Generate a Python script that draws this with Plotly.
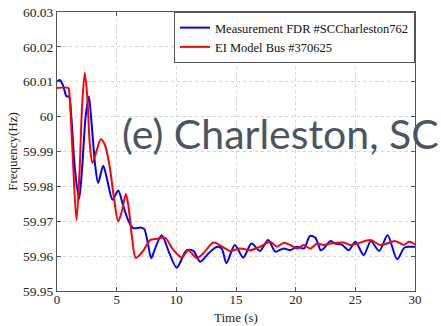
import plotly.graph_objects as go

# Measurement FDR #SCCharleston762 (blue)
t_meas = [0, 0.23, 0.5, 0.8, 1.0, 1.2, 1.5, 1.85, 2.1, 2.4, 2.67, 2.9, 3.2, 3.45, 3.87, 4.2,
          4.65, 5.13, 5.5, 6.0, 6.4, 7.0, 7.3, 7.6, 7.9, 8.2, 8.77, 9.4, 10.03, 10.87, 11.43,
          12.0, 12.7, 13.4, 13.8, 14.2, 14.9, 15.6, 16.3, 17.0, 17.7, 18.3, 19.0, 19.55, 20.1,
          20.7, 21.2, 21.65, 22.1, 22.35, 22.9, 23.3, 23.9, 24.45, 25.0, 25.7, 26.3, 27.0,
          27.7, 28.5, 29.1, 29.5, 30.0]
f_meas = [60.0100, 60.0105, 60.0090, 60.0058, 60.0058, 60.0000, 59.9850, 59.9764, 59.9850,
          60.0000, 60.0058, 59.9980, 59.9860, 59.9810, 59.9859, 59.9820, 59.9762, 59.9788,
          59.9750, 59.9700, 59.9680, 59.9682, 59.9678, 59.9640, 59.9594, 59.9620, 59.9660,
          59.9610, 59.9567, 59.9617, 59.9615, 59.9584, 59.9608, 59.9627, 59.9622, 59.9580,
          59.9632, 59.9596, 59.9636, 59.9615, 59.9646, 59.9613, 59.9622, 59.9617, 59.9627,
          59.9622, 59.9658, 59.9653, 59.9617, 59.9622, 59.9643, 59.9636, 59.9632, 59.9617,
          59.9641, 59.9603, 59.9643, 59.9615, 59.9660, 59.9591, 59.9624, 59.9627, 59.9627]

# EI Model Bus #370625 (red)
t_model = [0, 0.95, 1.05, 1.3, 1.63, 1.9, 2.1, 2.33, 2.55, 2.75, 2.97, 3.3, 3.67, 4.0, 4.4,
           4.8, 5.13, 5.45, 5.77, 6.0, 6.3, 6.6, 7.2, 7.8, 8.4, 9.05, 9.7, 10.45, 11.0, 11.71,
           12.27, 13.11, 14.09, 14.51, 15.35, 16.19, 17.03, 17.87, 18.43, 18.99, 19.55, 20.11,
           20.67, 21.23, 21.79, 22.35, 22.91, 24.03, 24.59, 25.15, 26.27, 27.11, 28.37, 29.07,
           29.49, 30.0]
f_model = [60.0082, 60.0082, 60.0060, 59.9900, 59.9703, 59.9850, 60.0030, 60.0126, 60.0050,
           59.9920, 59.9867, 59.9900, 59.9935, 59.9920, 59.9860, 59.9760, 59.9700, 59.9730,
           59.9778, 59.9740, 59.9650, 59.9595, 59.9614, 59.9646, 59.9650, 59.9653, 59.9620,
           59.9596, 59.9617, 59.9594, 59.9608, 59.9639, 59.9622, 59.9615, 59.9622, 59.9617,
           59.9627, 59.9641, 59.9627, 59.9638, 59.9632, 59.9622, 59.9632, 59.9622, 59.9636,
           59.9632, 59.9636, 59.9639, 59.9632, 59.9636, 59.9646, 59.9632, 59.9643, 59.9632,
           59.9641, 59.9634]

x_ticks = [0, 5, 10, 15, 20, 25, 30]
y_ticks = [59.95, 59.96, 59.97, 59.98, 59.99, 60.0, 60.01, 60.02, 60.03]
y_labels = ["59.95", "59.96", "59.97", "59.98", "59.99", "60", "60.01", "60.02", "60.03"]

serif = "Liberation Serif, Times New Roman, serif"

fig = go.Figure()
fig.add_trace(go.Scatter(x=t_meas, y=f_meas, mode="lines", name="Measurement FDR #SCCharleston762",
                         line=dict(color="#0000ff", width=2, shape="spline", smoothing=0.8)))
fig.add_trace(go.Scatter(x=t_model, y=f_model, mode="lines", name="EI Model Bus #370625",
                         line=dict(color="#ff0000", width=2, shape="spline", smoothing=0.8)))

axis_common = dict(showline=True, linecolor="#555555", linewidth=1, mirror="ticks",
                   ticks="inside", ticklen=4, tickcolor="#555555", automargin=False,
                   showgrid=True, gridcolor="#d4d4d4", griddash="dot", gridwidth=1,
                   zeroline=False, tickfont=dict(family=serif, size=13.5, color="#222222"))

fig.update_xaxes(range=[0, 30], tickvals=x_ticks, ticktext=[str(v) for v in x_ticks],
                 **axis_common)
fig.update_xaxes(tickfont=dict(size=13), ticklabelstandoff=-4)
fig.update_yaxes(range=[59.95, 60.03], tickvals=y_ticks, ticktext=y_labels,
                 title=dict(text="Frequency(Hz)", font=dict(family=serif, size=13, color="#222222"), standoff=2),
                 **axis_common)

fig.update_layout(
    width=441, height=326,
    margin=dict(l=57, r=26, t=12, b=35),
    paper_bgcolor="white", plot_bgcolor="white",
    showlegend=True,
    legend=dict(x=1, y=1, xanchor="right", yanchor="top", bgcolor="white",
                bordercolor="#555555", borderwidth=1,
                font=dict(family=serif, size=12.5, color="#111111"),
                itemwidth=30, tracegroupgap=0),
    annotations=[
        dict(text="Time (s)", xref="paper", yref="paper", x=0.5, y=-0.1275,
             xanchor="center", yanchor="bottom", showarrow=False,
             font=dict(family=serif, size=13, color="#222222")),
        dict(text="(e) Charleston, SC", xref="paper", yref="paper", x=0.176, y=0.563,
             xanchor="left", yanchor="middle", showarrow=False,
             font=dict(family="Lato, sans-serif", size=41, color="#4b5562")),
    ],
)

fig.write_html("out.html")
